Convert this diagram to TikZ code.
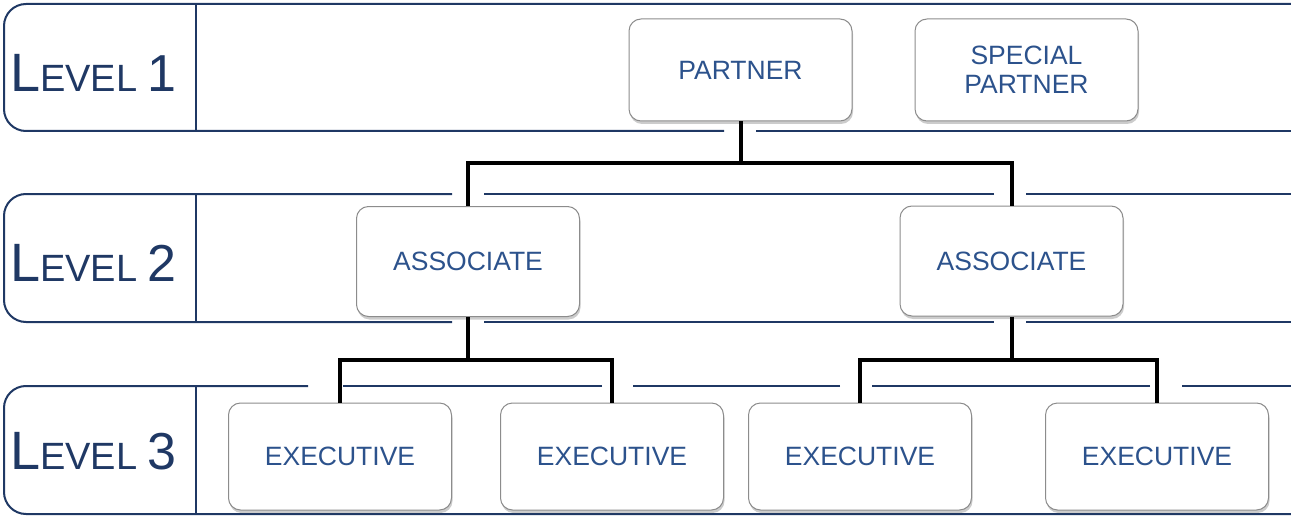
\documentclass[tikz,border=0pt]{standalone}
\usepackage{fontspec}
\setmainfont{Liberation Sans}
\usetikzlibrary{shadows}
\definecolor{bandblue}{RGB}{31,56,100}
\definecolor{textblue}{RGB}{44,82,140}
\newcommand{\levelname}[1]{{\fontsize{54}{54}\selectfont L}{\fontsize{38}{38}\selectfont EVEL }{\fontsize{52}{52}\selectfont #1}}

\tikzset{
  band/.style={draw=bandblue, line width=2pt},
  rolebox/.style={draw=black!45, line width=1pt, fill=white, rounded corners=12pt,
    minimum width=223pt, minimum height=104pt, inner sep=0pt, align=center,
    text=textblue, font=\fontsize{26.5}{29}\selectfont,
    drop shadow={shadow xshift=1pt, shadow yshift=-3pt, opacity=0.4}},
  conn/.style={draw=black, line width=4pt},
  levellabel/.style={anchor=base west, text=bandblue, inner sep=0pt}
}

\begin{document}
\begin{tikzpicture}[x=1pt, y=-1pt]
      \useasboundingbox (0,0) rectangle (1291,516);

      % level 1 band
      \draw[band, rounded corners=22pt] (1291,4) -- (4,4) -- (4,131) -- (724,131);
      \draw[band] (756,131) -- (1291,131);
      \draw[band] (196,4) -- (196,131);

      % level 2 band
      \draw[band] (1291,194) -- (1026,194);
      \draw[band] (994,194) -- (484,194);
      \draw[band, rounded corners=22pt] (452,194) -- (4,194) -- (4,322) -- (452,322);
      \draw[band] (484,322) -- (994,322);
      \draw[band] (1026,322) -- (1291,322);
      \draw[band] (196,194) -- (196,322);

      % level 3 band
      \draw[band] (1291,386) -- (1182,386);
      \draw[band] (1150,386) -- (872,386);
      \draw[band] (840,386) -- (633,386);
      \draw[band] (602,386) -- (343,386);
      \draw[band, rounded corners=22pt] (308,386) -- (4,386) -- (4,514) -- (1291,514);
      \draw[band] (196,386) -- (196,514);

      \node[levellabel] (lvone) at (10,92) {\levelname{1}};
      \node[levellabel] (lvtwo) at (10,281) {\levelname{2}};
      \node[levellabel] (lvthree) at (10,469) {\levelname{3}};

      \node[rolebox, minimum height=102pt] (partner) at (740.5,70) {PARTNER};
      \node[rolebox, minimum height=102pt] (special) at (1026.5,70) {SPECIAL\\PARTNER};

      \node[rolebox, minimum height=110pt] (assocA) at (468,261.5) {ASSOCIATE};
      \node[rolebox, minimum height=110pt] (assocB) at (1011.5,261) {ASSOCIATE};

      \node[rolebox, minimum height=107pt] (execA) at (340,456.5) {EXECUTIVE};
      \node[rolebox, minimum height=107pt] (execB) at (612,456.5) {EXECUTIVE};
      \node[rolebox, minimum height=107pt] (execC) at (860,456.5) {EXECUTIVE};
      \node[rolebox, minimum height=107pt] (execD) at (1157,456.5) {EXECUTIVE};

      \coordinate (busP) at (740.5,163);
      \coordinate (busA) at (468,360);
      \coordinate (busB) at (1011.5,360);

      \draw[conn] (partner.south) -- (busP);
      \draw[conn] (assocA.north) |- (busP) -| (assocB.north);

      \draw[conn] (assocA.south) -- (busA);
      \draw[conn] (execA.north) |- (busA) -| (execB.north);

      \draw[conn] (assocB.south) -- (busB);
      \draw[conn] (execC.north) |- (busB) -| (execD.north);
    \end{tikzpicture}
\end{document}
